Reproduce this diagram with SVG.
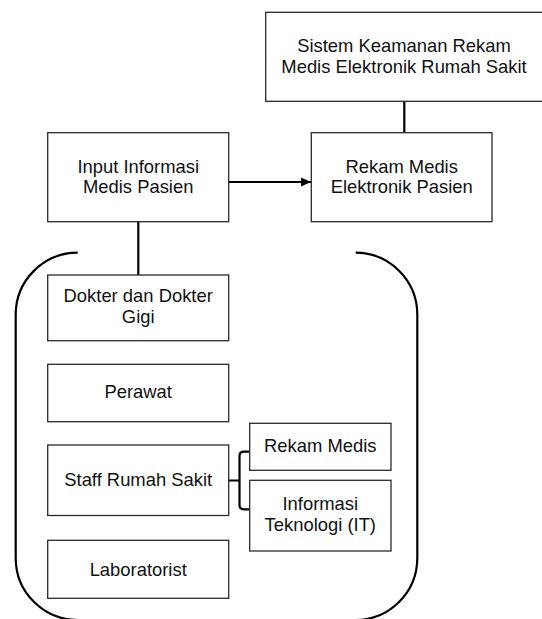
<svg xmlns="http://www.w3.org/2000/svg" width="542" height="619" viewBox="0 0 542 619">
<defs>
<style>
.box{fill:#fff;stroke:#2a2a2a;stroke-width:1.3}
.t{font-family:"Liberation Sans",Arial,sans-serif;font-size:18.4px;fill:#111;text-anchor:middle}
.c{fill:none;stroke:#000;stroke-width:2.2}
</style>
<marker id="ah" markerUnits="userSpaceOnUse" markerWidth="10" markerHeight="10" viewBox="0 0 10 10" refX="10" refY="5" orient="auto">
<path d="M0,0.5 L10,5 L0,9.5 Z" fill="#000"/>
</marker>
</defs>
<rect width="542" height="619" fill="#fff"/>
<g id="connectors">
<line class="c" x1="404.3" y1="101.3" x2="404.3" y2="132.7"/>
<line class="c" x1="228.7" y1="182" x2="311" y2="182" marker-end="url(#ah)"/>
<line class="c" x1="138.3" y1="221.7" x2="138.3" y2="275"/>
<path class="c" d="M229,480.5 H239.5 M244,451.7 Q239.5,451.7 239.5,456 V505 Q239.5,509.3 244,509.3 M244,451.7 H249.7 M244,509.3 H249.7"/>
</g>
<g id="container">
<path class="c" d="M77.7,252.7 A62,62 0 0 0 15.7,314.7 V558 A62,62 0 0 0 77.7,620 H355.7 A62,62 0 0 0 417.3,558 V314.7 A62,62 0 0 0 355.7,252.7"/>
</g>
<g id="sistem">
<rect class="box" x="265.7" y="12.3" width="278" height="89"/>
<text class="t" x="404" y="52.3">Sistem Keamanan Rekam</text>
<text class="t" x="404" y="72.8">Medis Elektronik Rumah Sakit</text>
</g>
<g id="input">
<rect class="box" x="47.7" y="132.7" width="181" height="89"/>
<text class="t" x="138.2" y="172.7">Input Informasi</text>
<text class="t" x="138.2" y="193.3">Medis Pasien</text>
</g>
<g id="rekam-elektronik">
<rect class="box" x="311.3" y="132.7" width="180.7" height="89"/>
<text class="t" x="401.7" y="172.7">Rekam Medis</text>
<text class="t" x="401.7" y="193.3">Elektronik Pasien</text>
</g>
<g id="dokter">
<rect class="box" x="47.7" y="275" width="181" height="65.7"/>
<text class="t" x="138.2" y="302.3">Dokter dan Dokter</text>
<text class="t" x="138.2" y="323.3">Gigi</text>
</g>
<g id="perawat">
<rect class="box" x="47.7" y="364.3" width="181" height="57.4"/>
<text class="t" x="138.2" y="398.3">Perawat</text>
</g>
<g id="staff">
<rect class="box" x="47.7" y="445" width="181" height="70.5"/>
<text class="t" x="138.2" y="485.7">Staff Rumah Sakit</text>
</g>
<g id="laboratorist">
<rect class="box" x="47.7" y="540.3" width="181" height="58"/>
<text class="t" x="138.2" y="576">Laboratorist</text>
</g>
<g id="rekam-medis">
<rect class="box" x="249.7" y="423.3" width="141.3" height="47"/>
<text class="t" x="320.3" y="452.3">Rekam Medis</text>
</g>
<g id="it">
<rect class="box" x="249.7" y="480.3" width="141.3" height="70.7"/>
<text class="t" x="320.3" y="510">Informasi</text>
<text class="t" x="320.3" y="530.7">Teknologi (IT)</text>
</g>
</svg>
